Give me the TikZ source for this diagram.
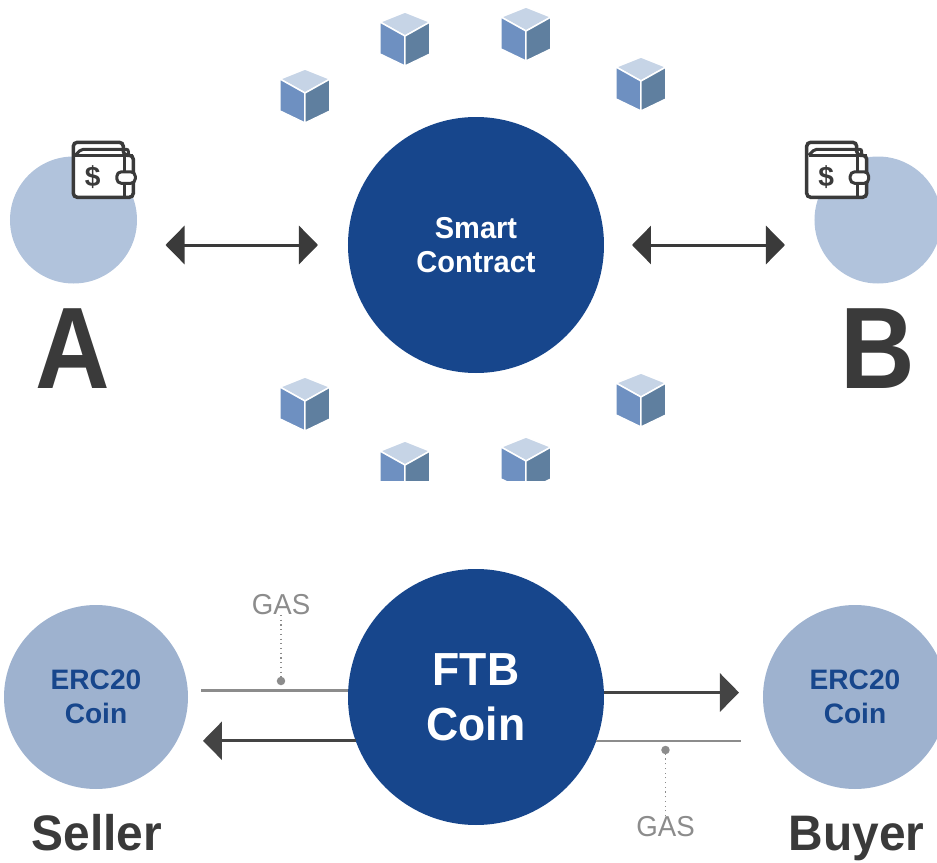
\documentclass[tikz,border=0pt]{standalone}
\usepackage{fontspec}
\setmainfont{Liberation Sans}
\newfontfamily\narrowfont[FakeStretch=0.96]{Liberation Sans}
\newfontfamily\letterfont[FakeStretch=0.89]{Liberation Sans}
\usetikzlibrary{arrows.meta}
\definecolor{navyblue}{HTML}{17468C}
\definecolor{paleblue}{HTML}{B1C3DC}
\definecolor{coinblue}{HTML}{9EB2CF}
\definecolor{darkink}{HTML}{3A3A3A}
\definecolor{arrowink}{HTML}{444444}
\definecolor{gasgray}{HTML}{8C8C8C}
\definecolor{cubetop}{HTML}{C6D4E6}
\definecolor{cubeleft}{HTML}{6E90C1}
\definecolor{cuberight}{HTML}{5F7F9F}
\tikzset{
    bigcircle/.style={circle,fill=navyblue,text=white,minimum size=2.56cm,inner sep=0pt,outer sep=0pt,align=center},
    partycircle/.style={circle,fill=paleblue,minimum size=1.27cm,inner sep=0pt,outer sep=0pt},
    coincircle/.style={circle,fill=coinblue,text=navyblue,minimum size=1.84cm,inner sep=0pt,outer sep=0pt,align=center,font=\fontsize{8}{9.6}\selectfont\bfseries},
    bigletter/.style={anchor=base,text=darkink,inner sep=0pt,font=\fontsize{33}{33}\selectfont\letterfont\bfseries},
    rolelabel/.style={anchor=base,text=darkink,inner sep=0pt,font=\fontsize{14.2}{14.2}\selectfont\narrowfont\bfseries},
    gaslabel/.style={anchor=base,text=gasgray,inner sep=0pt,font=\fontsize{8.2}{8.2}\selectfont\narrowfont},
    gasdot/.style={circle,fill=gasgray,minimum size=0.085cm,inner sep=0pt,outer sep=0pt},
    gasline/.style={-,gasgray,line width=0.025cm},
    gasleader/.style={-,gasgray,line width=0.012cm,densely dotted},
    flowline/.style={arrowink,line width=0.03cm,-{Triangle[length=0.19cm,width=0.38cm]}},
    dblline/.style={darkink,line width=0.03cm,{Triangle[length=0.19cm,width=0.38cm]}-{Triangle[length=0.19cm,width=0.38cm]}},
    blockcube/.pic={
        \fill[cubetop,draw=white,line width=0.015cm] (0,0) -- (-0.25,0.14) -- (0,0.24) -- (0.25,0.14) -- cycle;
        \fill[cubeleft,draw=white,line width=0.015cm] (0,0) -- (-0.25,0.14) -- (-0.25,-0.18) -- (0,-0.30) -- cycle;
        \fill[cuberight,draw=white,line width=0.015cm] (0,0) -- (0.25,0.14) -- (0.25,-0.18) -- (0,-0.30) -- cycle;
    },
    walletpic/.pic={
        \draw[darkink,fill=white,line width=0.035cm,rounded corners=0.04cm] (0.50,0.42) -- (0.50,0.55) -- (0,0.55) -- (0,0) -- (0.60,0) -- (0.60,0.42) -- cycle;
        \draw[darkink,line width=0.03cm,rounded corners=0.02cm] (0.02,0.42) -- (0.08,0.48) -- (0.55,0.48) -- (0.55,0.42);
        \draw[darkink,line width=0.03cm] (0.02,0.42) -- (0.60,0.42);
        \draw[darkink,line width=0.03cm] (0.51,0.42) -- (0.51,0.255);
        \draw[darkink,line width=0.03cm] (0.51,0.14) -- (0.51,0);
        \draw[darkink,fill=white,line width=0.03cm,rounded corners=0.045cm] (0.435,0.14) rectangle (0.62,0.255);
        \node[text=darkink,inner sep=0pt,font=\fontsize{8}{8}\selectfont\bfseries] at (0.195,0.205) (dollar){\$};
    }
}
\begin{document}
\begin{tikzpicture}
    \useasboundingbox (0,0) rectangle (9.37,8.62);

    % upper picture
    \node[bigcircle,font=\fontsize{8.6}{9.5}\selectfont\narrowfont\bfseries] at (4.76,6.17) (contract){Smart\\Contract};
    \node[partycircle] at (0.735,6.42) (a){};
    \node[partycircle] at (8.78,6.42) (b){};
    \node[bigletter] at (0.73,4.74) (lettera){A};
    \node[bigletter] at (8.78,4.74) (letterb){B};
    \pic (walleta) at (0.733,6.647) {walletpic};
    \pic (walletb) at (8.067,6.647) {walletpic};

    \draw[dblline,shorten <=0.285cm,shorten >=0.30cm] (a.east |- contract.west) -- (contract.west); %a-contract
    \draw[dblline,shorten <=0.28cm,shorten >=0.295cm] (contract.east) -- (b.west |- contract.east); %contract-b

    \pic at (3.05,7.69) {blockcube};
    \pic at (4.05,8.26) {blockcube};
    \pic at (5.26,8.31) {blockcube};
    \pic at (6.41,7.81) {blockcube};
    \pic at (3.05,4.61) {blockcube};
    \pic at (6.41,4.65) {blockcube};
    \begin{scope}
        \clip (3.5,3.82) rectangle (5.8,4.5);
        \pic at (4.05,3.97) {blockcube};
        \pic at (5.26,4.01) {blockcube};
    \end{scope}

    % lower picture
    \node[bigcircle,font=\fontsize{13.2}{15.6}\selectfont\narrowfont\bfseries] at (4.76,1.65) (ftb){FTB\\Coin};
    \node[coincircle] at (0.96,1.65) (seller){ERC20\\Coin};
    \node[coincircle] at (8.55,1.65) (buyer){ERC20\\Coin};
    \node[rolelabel] at (0.97,0.12) (sellername){Seller};
    \node[rolelabel] at (8.565,0.12) (buyername){Buyer};
    \node[gaslabel] at (2.81,2.48) (gasup){GAS};
    \node[gaslabel] at (6.655,0.25) (gasdown){GAS};
    \node[gasdot] at (2.81,1.81) (dotup){};
    \node[gasdot] at (6.655,1.12) (dotdown){};

    \draw[gasline,shorten >=0.13cm] (ftb.177.3) -- (seller.east |- ftb.177.3); %ftb-seller gas
    \draw[flowline,shorten >=0.15cm] (ftb.200.1) -- (seller.east |- ftb.200.1); %ftb-seller
    \draw[flowline,shorten >=0.24cm] (ftb.2.7) -- (buyer.west |- ftb.2.7); %ftb-buyer
    \draw[gasline,shorten >=0.22cm] (ftb.-20.1) -- (buyer.west |- ftb.-20.1); %ftb-buyer gas
    \draw[gasleader] (gasup.south) -- (dotup); %gas-dot
    \draw[gasleader] (gasdown.north) -- (dotdown); %gas-dot
\end{tikzpicture}
\end{document}
